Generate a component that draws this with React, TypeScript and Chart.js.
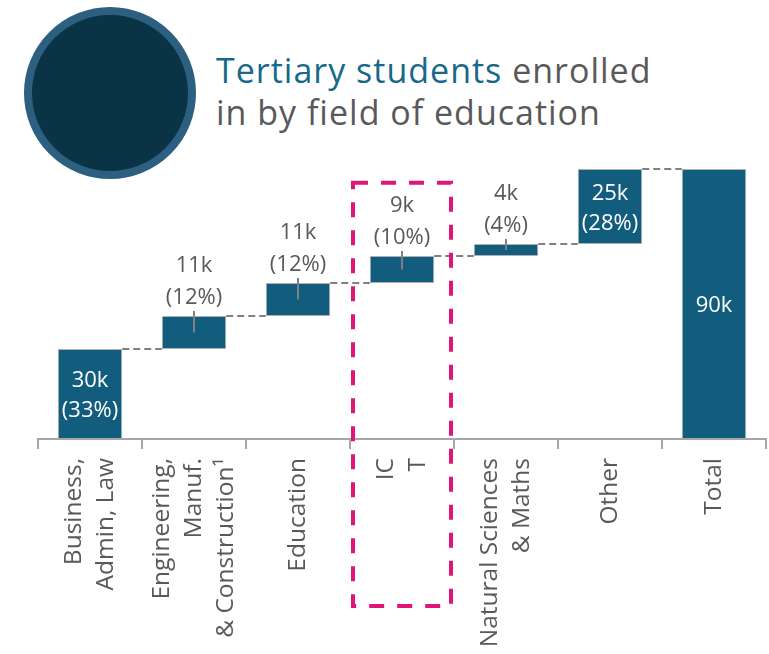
import React, { useEffect, useRef } from "react";
import { Chart, registerables } from "chart.js";

Chart.register(...registerables);

// ---- data ----
const categories: string[][] = [
  ["Business,", "Admin, Law"],
  ["Engineering,", "Manuf.", "& Construction¹"],
  ["Education"],
  ["IC", "T"],
  ["Natural Sciences", "& Maths"],
  ["Other"],
  ["Total"],
];
const increments: number[] = [30, 11, 11, 9, 4, 25];
const totalValue = 90;
const valueLabels: string[] = ["30k", "11k", "11k", "9k", "4k", "25k", "90k"];
const shareLabels: string[] = ["(33%)", "(12%)", "(12%)", "(10%)", "(4%)", "(28%)", ""];
const highlightIndex = 3;

// floating ranges built from the increments
const ranges: number[][] = (() => {
  const out: number[][] = [];
  let acc = 0;
  increments.forEach((v) => {
    out.push([acc, acc + v]);
    acc += v;
  });
  out.push([0, totalValue]);
  return out;
})();

const FONT = "'Open Sans', 'Noto Sans', sans-serif";
const BAR = "#125D7D";
const GREY_TEXT = "#595959";

const waterfallPlugin = {
  id: "waterfallDecor",
  afterDatasetsDraw(chart: any) {
    const { ctx, scales } = chart;
    const x = scales.x;
    const y = scales.y;
    const meta = chart.getDatasetMeta(0);
    const bars = meta.data.map((el: any) => el.getProps(["x", "y", "base", "width"], true));
    const axisY = chart.chartArea.bottom;
    ctx.save();

    // connectors
    ctx.strokeStyle = "#808080";
    ctx.lineWidth = 2;
    ctx.setLineDash([7, 4]);
    for (let i = 0; i < bars.length - 1; i++) {
      const a = bars[i];
      const b = bars[i + 1];
      const yy = Math.round(y.getPixelForValue(ranges[i][1]));
      ctx.beginPath();
      ctx.moveTo(a.x + a.width / 2, yy);
      ctx.lineTo(b.x - b.width / 2, yy);
      ctx.stroke();
    }
    ctx.setLineDash([]);

    // labels
    bars.forEach((b: any, i: number) => {
      const top = Math.min(b.y, b.base);
      const bottom = Math.max(b.y, b.base);
      const h = ranges[i][1] - ranges[i][0];
      ctx.font = `22px ${FONT}`;
      ctx.textAlign = "center";
      ctx.textBaseline = "alphabetic";
      if (h >= 20) {
        ctx.fillStyle = "#FFFFFF";
        const c = (top + bottom) / 2;
        if (shareLabels[i]) {
          ctx.fillText(valueLabels[i], b.x, c - 7);
          ctx.fillText(shareLabels[i], b.x, c + 23);
        } else {
          ctx.fillText(valueLabels[i], b.x, c + 8);
        }
      } else {
        // small marker line
        ctx.strokeStyle = "#808080";
        ctx.lineWidth = 2;
        ctx.beginPath();
        ctx.moveTo(b.x, top - 5);
        ctx.lineTo(b.x, (top + bottom) / 2);
        ctx.stroke();
        ctx.fillStyle = GREY_TEXT;
        ctx.fillText(valueLabels[i], b.x, top - 44);
        ctx.fillText(shareLabels[i], b.x, top - 12);
      }
    });

    // category labels (rotated)
    ctx.font = `24.5px ${FONT}`;
    ctx.fillStyle = GREY_TEXT;
    ctx.textAlign = "right";
    ctx.textBaseline = "middle";
    const lineGap = 32;
    categories.forEach((lines, i) => {
      const cx = x.getPixelForValue(i);
      lines.forEach((line, k) => {
        const lx = cx + (k - (lines.length - 1) / 2) * lineGap;
        ctx.save();
        ctx.translate(lx, axisY + 19);
        ctx.rotate(-Math.PI / 2);
        ctx.fillText(line, 0, 0);
        ctx.restore();
      });
    });

    // highlight box
    const hc = x.getPixelForValue(highlightIndex);
    const half = (x.getPixelForValue(1) - x.getPixelForValue(0)) / 2 - 2;
    ctx.strokeStyle = "#E0157A";
    ctx.lineWidth = 4;
    ctx.setLineDash([15, 13]);
    ctx.beginPath();
    ctx.rect(hc - half + 1, y.getPixelForValue(85.4), half * 2 - 2, axisY + 167 - y.getPixelForValue(85.4));
    ctx.stroke();
    ctx.restore();
  },
};

export default function App() {
  const canvasRef = useRef<HTMLCanvasElement | null>(null);

  useEffect(() => {
    if (!canvasRef.current) return;
    const chart = new Chart(canvasRef.current, {
      type: "bar",
      data: {
        labels: categories.map((c) => c.join(" ")),
        datasets: [
          {
            data: ranges as any,
            backgroundColor: BAR,
            borderColor: "rgba(170,170,170,0.9)",
            borderWidth: 1,
            borderSkipped: false,
            barPercentage: 0.62,
            categoryPercentage: 1,
          },
        ],
      },
      options: {
        animation: false,
        responsive: false,
        maintainAspectRatio: false,
        events: [],
        layout: { padding: { left: 38, right: 3, top: 169, bottom: 205 } },
        plugins: {
          legend: { display: false },
          tooltip: { enabled: false },
          title: { display: false },
        },
        scales: {
          x: {
            grid: {
              display: true,
              drawOnChartArea: false,
              drawTicks: true,
              tickLength: 10,
              color: "#A6A6A6",
              lineWidth: 2,
              offset: true,
            },
            border: { display: true, color: "#A6A6A6", width: 2 },
            ticks: { display: false },
          },
          y: {
            display: false,
            min: 0,
            max: 90,
          },
        },
      },
      plugins: [waterfallPlugin],
    });
    return () => chart.destroy();
  }, []);

  return (
    <div style={{ position: "absolute", left: 0, top: 0, width: 769, height: 654, background: "#fff" }}>
      <div
        style={{
          position: "absolute",
          left: 24,
          top: 7,
          width: 172,
          height: 172,
          borderRadius: "50%",
          background: "#0B3346",
          border: "8px solid #2D5F81",
          boxSizing: "border-box",
        }}
      />
      <div
        style={{
          position: "absolute",
          left: 216,
          top: 49,
          fontFamily: FONT,
          fontSize: 34,
          letterSpacing: "1px",
          lineHeight: "42px",
          color: GREY_TEXT,
          whiteSpace: "nowrap",
          fontVariantLigatures: "none",
        }}
      >
        <span style={{ color: "#17688A" }}>Tertiary students</span> enrolled
        <br />
        in by field of education
      </div>
      <canvas
        ref={canvasRef}
        width={769}
        height={654}
        style={{ position: "absolute", left: 0, top: 0, width: 769, height: 654 }}
      />
    </div>
  );
}
